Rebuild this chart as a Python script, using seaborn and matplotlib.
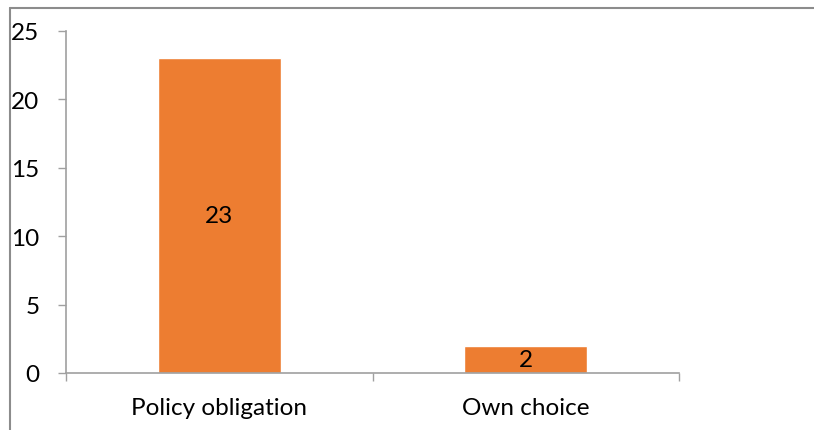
import matplotlib
matplotlib.use("Agg")
import matplotlib.pyplot as plt
import seaborn as sns
import pandas as pd
from matplotlib.lines import Line2D

categories = ["Policy obligation", "Own choice"]
values = [23, 2]
yticks = [0, 5, 10, 15, 20, 25]

sns.set_theme(style="white")
plt.rcParams['font.family'] = ['Lato', 'DejaVu Sans']

df = pd.DataFrame({"cat": categories, "val": values})

fig = plt.figure(figsize=(8.14, 4.31), dpi=100)
ax = fig.add_axes([66/814, 1-374/431, (679-66)/814, (374-32)/431])

sns.barplot(data=df, x="cat", y="val", color="#ED7D31", width=0.4,
            saturation=1, ax=ax)

FS = 17.5
ax.set_ylim(0, 25)
ax.set_xlim(-0.5, 1.5)
ax.set_yticks(yticks)
ax.set_yticklabels([str(t) for t in yticks], fontsize=FS, color="black")
ax.set_xlabel("")
ax.set_ylabel("")

# category boundary ticks (major) and labels (minor)
ax.set_xticks([-0.5, 0.5, 1.5])
ax.set_xticklabels(["", "", ""])
ax.set_xticks([0, 1], minor=True)
ax.set_xticklabels(categories, minor=True, fontsize=FS, color="black")
ax.tick_params(axis="x", which="minor", length=0, pad=17)
ax.tick_params(axis="x", which="major", length=6, width=1, color="#a0a0a0", direction="out", bottom=True)
ax.tick_params(axis="y", length=6, width=1, color="#a0a0a0", direction="out", pad=13, left=True)

for side in ["top", "right"]:
    ax.spines[side].set_visible(False)
for side in ["left", "bottom"]:
    ax.spines[side].set_color("#a0a0a0")
    ax.spines[side].set_linewidth(1.2)

for c in ax.containers:
    ax.bar_label(c, labels=[str(v) for v in values], label_type="center",
                 fontsize=FS, color="black")

# outer chart border (only left and top visible in crop)
fig.add_artist(Line2D([10/814, 10/814], [0, 1-9/431], transform=fig.transFigure,
                      color="#8c8c8c", linewidth=1.5))
fig.add_artist(Line2D([10/814, 1], [1-9/431, 1-9/431], transform=fig.transFigure,
                      color="#8c8c8c", linewidth=1.5))

fig.savefig("out.png", dpi=100)
